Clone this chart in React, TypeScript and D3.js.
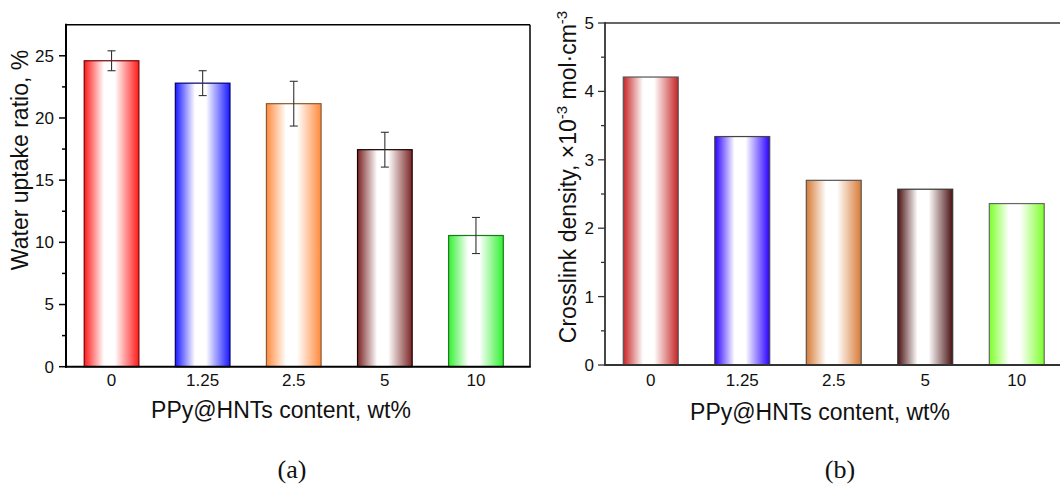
import React from 'react';
import * as d3 from 'd3';

const categories = ['0', '1.25', '2.5', '5', '10'];
const waterUptake = [24.6, 22.8, 21.15, 17.45, 10.55];
const waterUptakeErr = [0.8, 1.0, 1.8, 1.4, 1.45];
const crosslinkDensity = [4.21, 3.34, 2.7, 2.57, 2.36];
const ticksA = [0, 5, 10, 15, 20, 25];
const minorTicksA = [2.5, 7.5, 12.5, 17.5, 22.5];
const ticksB = [0, 1, 2, 3, 4, 5];
const minorTicksB = [0.5, 1.5, 2.5, 3.5, 4.5];
const colorsA = ['#ff1a1a', '#1a1aff', '#ff8a3d', '#7a2424', '#33f033'];
const strokesA = ['#7a0000', '#000070', '#8a5a30', '#1a0000', '#1a7a1a'];
const colorsB = ['#c62525', '#2a00ff', '#d77a35', '#4a1212', '#7cff2a'];
const strokesB = ['#555', '#444', '#555', '#333', '#666'];

const FONT = '"Liberation Sans", Arial, sans-serif';

function Grad({ id, color }: { id: string; color: string }) {
  return (
    <linearGradient id={id} x1="0" y1="0" x2="1" y2="0">
      <stop offset="0" stopColor={color} />
      <stop offset="0.36" stopColor="#ffffff" />
      <stop offset="0.56" stopColor="#ffffff" />
      <stop offset="1" stopColor={color} />
    </linearGradient>
  );
}

export default function App() {
  // Panel A
  const axA = 66, rightA = 530, topA = 24.7, botA = 366.7;
  const xA = d3.scaleBand<string>().domain(categories).range([axA, 521.5]).paddingInner(0.4).paddingOuter(0.2);
  const yA = d3.scaleLinear().domain([0, 27.5]).range([botA, topA]);
  // Panel B
  const axB = 605, topB = 23, botB = 365;
  const xB = d3.scaleBand<string>().domain(categories).range([axB, 1062.5]).paddingInner(0.4).paddingOuter(0.2);
  const yB = d3.scaleLinear().domain([0, 5]).range([botB, topB]);

  return (
    <svg width={1060} height={485} style={{ position: 'absolute', left: 0, top: 0, background: '#fff' }} fontFamily={FONT}>
      <defs>
        {colorsA.map((c, i) => <Grad key={'a' + i} id={'ga' + i} color={c} />)}
        {colorsB.map((c, i) => <Grad key={'b' + i} id={'gb' + i} color={c} />)}
      </defs>
      <rect x={0} y={0} width={1060} height={485} fill="#fff" />

      {/* ===== Panel A ===== */}
      {categories.map((c, i) => (
        <rect key={'ba' + i} x={xA(c)} y={yA(waterUptake[i])} width={xA.bandwidth()} height={yA(0) - yA(waterUptake[i])}
          fill={`url(#ga${i})`} stroke={strokesA[i]} strokeWidth={1.2} />
      ))}
      {categories.map((c, i) => {
        const cx = (xA(c) as number) + xA.bandwidth() / 2;
        const y1 = yA(waterUptake[i] + waterUptakeErr[i]);
        const y2 = yA(waterUptake[i] - waterUptakeErr[i]);
        return (
          <g key={'ea' + i} stroke="#333" strokeWidth={1.1}>
            <line x1={cx} x2={cx} y1={y1} y2={y2} />
            <line x1={cx - 4} x2={cx + 4} y1={y1} y2={y1} />
            <line x1={cx - 4} x2={cx + 4} y1={y2} y2={y2} />
          </g>
        );
      })}
      {/* frame */}
      <line x1={axA} x2={rightA} y1={topA} y2={topA} stroke="#000" strokeWidth={1.5} />
      <line x1={rightA} x2={rightA} y1={topA} y2={botA} stroke="#000" strokeWidth={1.5} />
      <line x1={axA} x2={axA} y1={topA - 1} y2={botA + 1} stroke="#000" strokeWidth={2} />
      <line x1={axA - 1} x2={rightA + 0.75} y1={botA} y2={botA} stroke="#000" strokeWidth={2} />
      {ticksA.map(t => (
        <g key={'ta' + t}>
          <line x1={axA - 7} x2={axA} y1={yA(t)} y2={yA(t)} stroke="#000" strokeWidth={1.5} />
          <text x={axA - 12} y={yA(t)} dy="0.35em" textAnchor="end" fontSize={17} fill="#111">{t}</text>
        </g>
      ))}
      {minorTicksA.map(t => (
        <line key={'ma' + t} x1={axA - 4} x2={axA} y1={yA(t)} y2={yA(t)} stroke="#000" strokeWidth={1.5} />
      ))}
      {categories.map(c => (
        <text key={'xa' + c} x={(xA(c) as number) + xA.bandwidth() / 2} y={386} textAnchor="middle" fontSize={17} fill="#111">{c}</text>
      ))}
      <text x={281} y={418} textAnchor="middle" fontSize={23} fill="#111">PPy@HNTs content, wt%</text>
      <text transform="translate(28,160) rotate(-90)" textAnchor="middle" fontSize={23} fill="#111">Water uptake ratio, %</text>
      <text x={292} y={478} textAnchor="middle" fontSize={26} fontFamily='"Liberation Serif", serif' fill="#111">(a)</text>

      {/* ===== Panel B ===== */}
      {categories.map((c, i) => (
        <rect key={'bb' + i} x={xB(c)} y={yB(crosslinkDensity[i])} width={xB.bandwidth()} height={yB(0) - yB(crosslinkDensity[i])}
          fill={`url(#gb${i})`} stroke={strokesB[i]} strokeWidth={1.2} />
      ))}
      <line x1={axB} x2={1060} y1={topB} y2={topB} stroke="#333" strokeWidth={1.5} />
      <line x1={axB} x2={axB} y1={topB - 1} y2={botB + 1} stroke="#333" strokeWidth={1.8} />
      <line x1={axB - 1} x2={1060} y1={botB} y2={botB} stroke="#333" strokeWidth={1.8} />
      {ticksB.map(t => (
        <g key={'tb' + t}>
          <line x1={axB - 7} x2={axB} y1={yB(t)} y2={yB(t)} stroke="#333" strokeWidth={1.3} />
          <text x={axB - 11} y={yB(t)} dy="0.35em" textAnchor="end" fontSize={17} fill="#111">{t}</text>
        </g>
      ))}
      {minorTicksB.map(t => (
        <line key={'mb' + t} x1={axB - 4} x2={axB} y1={yB(t)} y2={yB(t)} stroke="#333" strokeWidth={1.3} />
      ))}
      {categories.map(c => (
        <text key={'xb' + c} x={(xB(c) as number) + xB.bandwidth() / 2} y={386} textAnchor="middle" fontSize={17} fill="#111">{c}</text>
      ))}
      <text x={820} y={420} textAnchor="middle" fontSize={23} fill="#111">PPy@HNTs content, wt%</text>
      <text transform="translate(576,177) rotate(-90)" textAnchor="middle" fontSize={23} fill="#111">
        Crosslink density, ×10<tspan fontSize={15} dy={-9}>-3</tspan><tspan dy={9}> mol·cm</tspan><tspan fontSize={15} dy={-9}>-3</tspan>
      </text>
      <text x={840} y={478} textAnchor="middle" fontSize={26} fontFamily='"Liberation Serif", serif' fontStyle="normal" fill="#111">(b)</text>
    </svg>
  );
}
